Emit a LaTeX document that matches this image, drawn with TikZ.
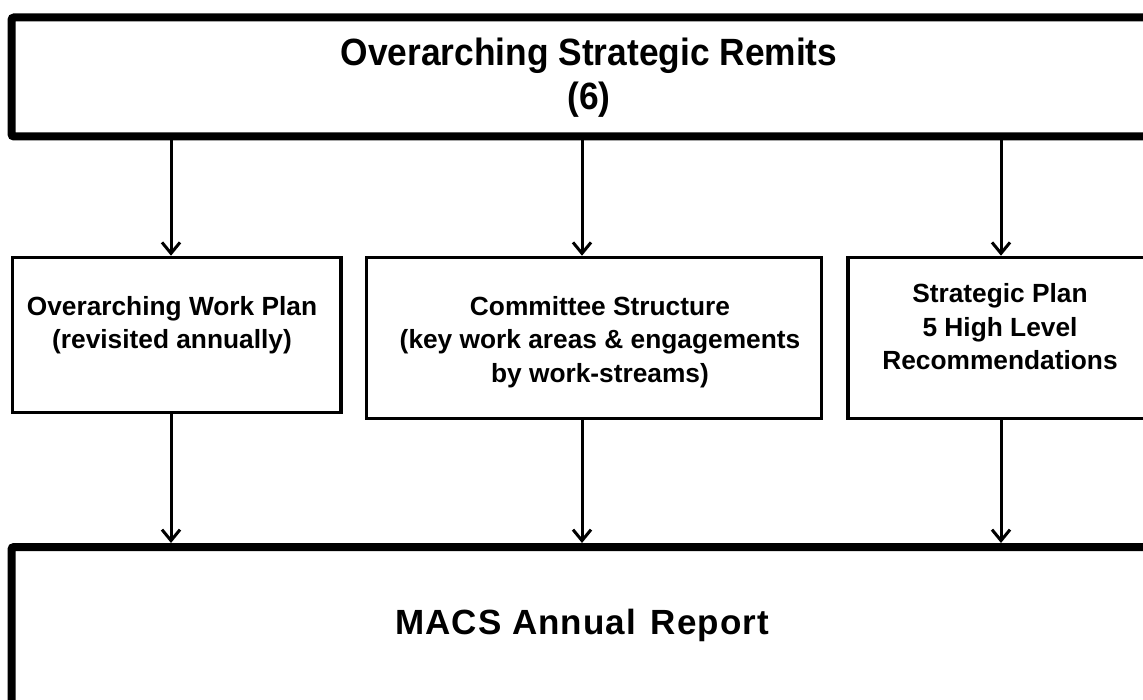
\documentclass[tikz,border=0pt]{standalone}
\usepackage{fontspec}
\setmainfont{Liberation Sans}
\newfontfamily\titlefont{Liberation Sans}[FakeStretch=0.93]
\newfontfamily\macsfont{Liberation Sans}[LetterSpace=3]
\usetikzlibrary{arrows.meta}
\begin{document}
\begin{tikzpicture}[x=1pt,y=-1pt,
 thickbox/.style={draw, line width=8pt, rounded corners=2.5pt, inner sep=0pt},
 thinbox/.style={draw, line width=3.5pt, inner sep=0pt},
 arr/.style={-{Straight Barb[length=11pt,width=18pt]}, line width=3pt},
 lbl/.style={font=\bfseries\fontsize{26.3}{33.5}\selectfont, align=center, inner sep=0pt}]
\useasboundingbox (0,0) rectangle (1143,700);
\fill[white] (0,0) rectangle (1143,700);
\clip (0,0) rectangle (1143,700);
% boxes
\node[thickbox, minimum width=1155pt, minimum height=119pt] (top) at (589,77) {};
\node[thinbox, minimum width=328.5pt, minimum height=155pt] (wp) at (176.75,335) {};
\node[thinbox, minimum width=455pt, minimum height=161pt] (cs) at (594,338) {};
\node[thinbox, minimum width=312pt, minimum height=161pt] (sp) at (1004,338) {};
\node[thickbox, minimum width=1148.5pt, minimum height=173pt] (rep) at (585.75,633.5) {};
% texts
\node[align=center, inner sep=0pt, font=\titlefont\bfseries\fontsize{38}{44}\selectfont] (toptext) at (589,78) {Overarching Strategic Remits\\(6)};
\node[lbl] (wptext) at (172,325) {Overarching Work Plan\\(revisited annually)};
\node[lbl] (cstext) at (600,342) {Committee Structure\\(key work areas \& engagements\\by work-streams)};
\node[lbl] (sptext) at (1000,327) {Strategic Plan\\5 High Level\\Recommendations};
\node[inner sep=0pt, font=\macsfont\bfseries\fontsize{35}{40}\selectfont] (reptext) at (582,625) {MACS Annual\hspace{4pt} Report};
% arrow columns
\coordinate (c1) at (171,0);
\coordinate (c2) at (582,0);
\coordinate (c3) at (1001,0);
\draw[arr] (top.south -| c1) -- (wp.north -| c1);
\draw[arr] (top.south -| c2) -- (cs.north -| c2);
\draw[arr] (top.south -| c3) -- (sp.north -| c3);
\draw[arr] (wp.south -| c1) -- (rep.north -| c1);
\draw[arr] (cs.south -| c2) -- (rep.north -| c2);
\draw[arr] (sp.south -| c3) -- (rep.north -| c3);
\end{tikzpicture}
\end{document}
